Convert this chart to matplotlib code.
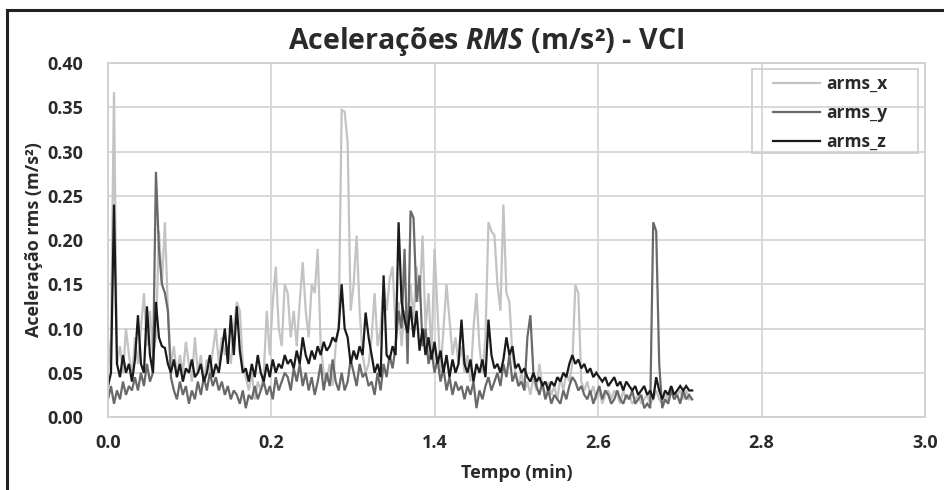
import numpy as np
import matplotlib
matplotlib.use("Agg")
import matplotlib.pyplot as plt
from matplotlib.lines import Line2D
from matplotlib.patches import Rectangle

plt.rcParams['font.family'] = ['Open Sans', 'DejaVu Sans']
plt.rcParams['mathtext.fontset'] = 'custom'
plt.rcParams['mathtext.it'] = 'Open Sans:italic:bold'
plt.rcParams['mathtext.rm'] = 'Open Sans:bold'

# sample step (min) and series values
dt = 0.011

arms_x = [
    0.05, 0.09, 0.367, 0.06, 0.08, 0.05, 0.10, 0.07, 0.045, 0.09,
    0.06, 0.10, 0.14, 0.08, 0.12, 0.07, 0.09, 0.21, 0.15, 0.22,
    0.12, 0.06, 0.08, 0.045, 0.07, 0.05, 0.085, 0.06, 0.04, 0.09,
    0.05, 0.07, 0.04, 0.065, 0.05, 0.075, 0.10, 0.06, 0.09, 0.07,
    0.08, 0.06, 0.10, 0.13, 0.12, 0.06, 0.045, 0.03, 0.05, 0.02,
    0.04, 0.03, 0.05, 0.12, 0.07, 0.13, 0.17, 0.10, 0.08, 0.15,
    0.14, 0.09, 0.12, 0.08, 0.13, 0.175, 0.12, 0.09, 0.15, 0.14,
    0.19, 0.08, 0.05, 0.04, 0.06, 0.035, 0.08, 0.10, 0.347, 0.345,
    0.31, 0.12, 0.15, 0.205, 0.12, 0.07, 0.05, 0.06, 0.09, 0.14,
    0.08, 0.10, 0.15, 0.12, 0.155, 0.17, 0.10, 0.13, 0.08, 0.12,
    0.09, 0.15, 0.11, 0.17, 0.13, 0.205, 0.10, 0.14, 0.07, 0.19,
    0.12, 0.05, 0.10, 0.15, 0.11, 0.07, 0.09, 0.06, 0.08, 0.05,
    0.07, 0.04, 0.10, 0.14, 0.08, 0.05, 0.09, 0.22, 0.21, 0.205,
    0.15, 0.12, 0.24, 0.14, 0.13, 0.07, 0.05, 0.035, 0.05, 0.03,
    0.04, 0.025, 0.045, 0.03, 0.06, 0.035, 0.02, 0.04, 0.025, 0.035,
    0.02, 0.045, 0.03, 0.05, 0.04, 0.06, 0.149, 0.14, 0.04, 0.03,
    0.04, 0.025, 0.035, 0.02, 0.03, 0.015, 0.025, 0.03, 0.02, 0.03,
    0.025, 0.015, 0.03, 0.02, 0.025, 0.015, 0.02, 0.025, 0.015, 0.02,
    0.025, 0.015, 0.02, 0.03, 0.02, 0.015, 0.025, 0.02, 0.03, 0.02,
    0.025, 0.03, 0.02, 0.03, 0.02, 0.02,
]

arms_y = [
    0.02, 0.035, 0.015, 0.03, 0.02, 0.04, 0.025, 0.035, 0.03, 0.045,
    0.03, 0.05, 0.035, 0.06, 0.04, 0.05, 0.277, 0.19, 0.15, 0.14,
    0.12, 0.045, 0.03, 0.02, 0.04, 0.025, 0.035, 0.015, 0.03, 0.02,
    0.04, 0.025, 0.045, 0.03, 0.05, 0.035, 0.045, 0.03, 0.04, 0.025,
    0.035, 0.02, 0.03, 0.025, 0.015, 0.03, 0.01, 0.025, 0.02, 0.035,
    0.02, 0.03, 0.04, 0.025, 0.035, 0.02, 0.045, 0.03, 0.04, 0.05,
    0.045, 0.03, 0.055, 0.04, 0.06, 0.035, 0.05, 0.03, 0.045, 0.025,
    0.04, 0.06, 0.03, 0.05, 0.035, 0.065, 0.04, 0.03, 0.05, 0.03,
    0.04, 0.065, 0.05, 0.035, 0.06, 0.045, 0.05, 0.035, 0.04, 0.025,
    0.05, 0.03, 0.06, 0.045, 0.07, 0.055, 0.08, 0.12, 0.10, 0.19,
    0.06, 0.233, 0.225, 0.13, 0.16, 0.08, 0.10, 0.06, 0.075, 0.05,
    0.065, 0.04, 0.055, 0.03, 0.045, 0.025, 0.04, 0.03, 0.035, 0.02,
    0.035, 0.025, 0.04, 0.01, 0.03, 0.02, 0.035, 0.045, 0.03, 0.04,
    0.05, 0.035, 0.06, 0.045, 0.07, 0.04, 0.05, 0.035, 0.04, 0.03,
    0.09, 0.115, 0.05, 0.035, 0.025, 0.04, 0.02, 0.03, 0.015, 0.025,
    0.02, 0.015, 0.03, 0.02, 0.035, 0.045, 0.04, 0.03, 0.035, 0.025,
    0.02, 0.03, 0.015, 0.025, 0.035, 0.02, 0.03, 0.025, 0.015, 0.02,
    0.03, 0.02, 0.015, 0.025, 0.02, 0.03, 0.015, 0.02, 0.025, 0.01,
    0.015, 0.01, 0.22, 0.21, 0.06, 0.01, 0.02, 0.015, 0.03, 0.02,
    0.025, 0.015, 0.03, 0.02, 0.025, 0.02,
]

arms_z = [
    0.035, 0.05, 0.24, 0.06, 0.045, 0.07, 0.05, 0.06, 0.04, 0.065,
    0.115, 0.06, 0.05, 0.125, 0.07, 0.05, 0.13, 0.09, 0.08, 0.078,
    0.06, 0.05, 0.065, 0.045, 0.06, 0.04, 0.055, 0.05, 0.065, 0.045,
    0.05, 0.06, 0.04, 0.05, 0.07, 0.045, 0.06, 0.05, 0.075, 0.10,
    0.06, 0.115, 0.07, 0.125, 0.075, 0.05, 0.055, 0.04, 0.06, 0.045,
    0.07, 0.05, 0.04, 0.06, 0.045, 0.065, 0.05, 0.06, 0.055, 0.07,
    0.06, 0.065, 0.055, 0.075, 0.06, 0.09, 0.07, 0.06, 0.075, 0.065,
    0.08, 0.07, 0.085, 0.075, 0.08, 0.09, 0.085, 0.10, 0.15, 0.10,
    0.09, 0.06, 0.075, 0.065, 0.08, 0.07, 0.118, 0.09, 0.07, 0.05,
    0.06, 0.045, 0.16, 0.07, 0.065, 0.08, 0.07, 0.22, 0.13, 0.11,
    0.095, 0.125, 0.09, 0.12, 0.075, 0.10, 0.07, 0.09, 0.065, 0.085,
    0.06, 0.075, 0.05, 0.07, 0.045, 0.065, 0.05, 0.06, 0.11, 0.06,
    0.05, 0.065, 0.04, 0.06, 0.05, 0.065, 0.045, 0.11, 0.07, 0.055,
    0.06, 0.05, 0.065, 0.09, 0.07, 0.08, 0.055, 0.06, 0.05, 0.055,
    0.045, 0.04, 0.05, 0.04, 0.045, 0.035, 0.04, 0.03, 0.04, 0.035,
    0.045, 0.04, 0.05, 0.045, 0.06, 0.07, 0.06, 0.065, 0.055, 0.06,
    0.05, 0.055, 0.045, 0.05, 0.045, 0.04, 0.045, 0.035, 0.04, 0.045,
    0.035, 0.04, 0.03, 0.04, 0.035, 0.03, 0.035, 0.025, 0.03, 0.035,
    0.025, 0.03, 0.02, 0.045, 0.03, 0.02, 0.03, 0.025, 0.035, 0.025,
    0.03, 0.035, 0.03, 0.035, 0.03, 0.03,
]

series_names = ["arms_x", "arms_y", "arms_z"]
series_colors = ["#c3c3c3", "#696969", "#1a1a1a"]

xticks = [0.0, 0.6, 1.2, 1.8, 2.4, 3.0]
xtick_labels = ["0.0", "0.2", "1.4", "2.6", "2.8", "3.0"]
yticks = [0.00, 0.05, 0.10, 0.15, 0.20, 0.25, 0.30, 0.35, 0.40]

W, H = 945, 490
fig = plt.figure(figsize=(W / 100, H / 100), dpi=100)
ax = fig.add_axes([108 / W, 1 - 417 / H, (925 - 108) / W, (417 - 63) / H])

for name, vals, col in zip(series_names, [arms_x, arms_y, arms_z], series_colors):
    t = np.arange(len(vals)) * dt
    ax.plot(t, vals, color=col, lw=1.6, label=name, solid_joinstyle='miter')

ax.set_xlim(0, 3.0)
ax.set_ylim(0, 0.40)
ax.set_xticks(xticks)
ax.set_xticklabels(xtick_labels)
ax.set_yticks(yticks)
ax.set_yticklabels([f"{v:.2f}" for v in yticks])
ax.grid(True, color="#d6d6d6", lw=1.3)
ax.set_axisbelow(True)
for s in ax.spines.values():
    s.set_color("#d0d0d0")
    s.set_linewidth(1.3)
ax.tick_params(length=0, labelsize=13, colors="#2a2a2a")
ax.tick_params(axis='y', pad=18)
ax.tick_params(axis='x', pad=12)
for lab in ax.get_xticklabels() + ax.get_yticklabels():
    lab.set_fontweight('bold')

ax.set_xlabel("Tempo (min)", fontsize=13, fontweight='bold', color="#2a2a2a", labelpad=9)
ax.set_ylabel("Aceleração rms (m/s²)", fontsize=13, fontweight='bold', color="#2a2a2a", labelpad=3)

fig.text(486 / W, 1 - 42 / H, r"Acelerações $\mathit{RMS}$ (m/s²) - VCI",
         ha='center', va='center', fontsize=20.5, fontweight='bold', color="#2a2a2a")

# legend (frameless) plus its separate thin frame
leg = ax.legend(loc='upper left', bbox_to_anchor=((768 - 108) / 817, (417 - 70) / 354),
                borderaxespad=0, frameon=False, fontsize=12.5, handlelength=2.7,
                labelspacing=0.62, borderpad=0.3, handletextpad=0.35)
for txt in leg.get_texts():
    txt.set_fontweight('bold')
    txt.set_color("#2a2a2a")
ax.add_patch(Rectangle(((752 - 108) / 817, (417 - 153) / 354), (918 - 752) / 817, (153 - 69) / 354,
                       transform=ax.transAxes, fill=False, edgecolor="#d0d0d0", lw=1.3,
                       zorder=5, clip_on=False))

# outer border (top and left)
fig.add_artist(Line2D([7 / W, 1.0], [1 - 10 / H, 1 - 10 / H], color="#222222", lw=2.2,
                      transform=fig.transFigure))
fig.add_artist(Line2D([7 / W, 7 / W], [0, 1 - 10 / H], color="#222222", lw=2.2,
                      transform=fig.transFigure))

fig.savefig("out.png", dpi=100)
